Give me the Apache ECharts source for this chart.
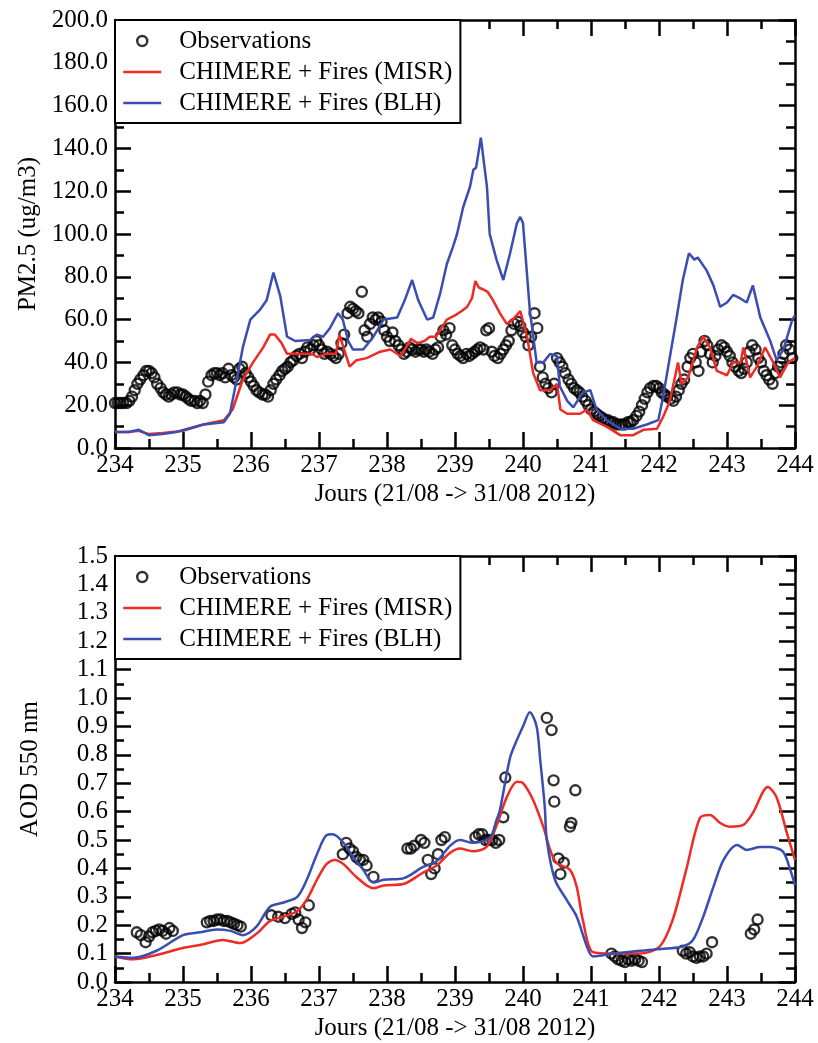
<!DOCTYPE html>
<html><head><meta charset="utf-8">
<script src="https://cdn.jsdelivr.net/npm/echarts@6/dist/echarts.min.js"></script>
<style>html,body{margin:0;padding:0;background:#fff}#c{width:818px;height:1043px}</style>
</head><body><div id="c"></div>
<script>
// ---------- DATA ----------
const seriesNames = ['Observations', 'CHIMERE + Fires (MISR)', 'CHIMERE + Fires (BLH)'];
const xTitle = 'Jours (21/08 -> 31/08 2012)';
const pmTitle = 'PM2.5 (ug/m3)';
const aodTitle = 'AOD 550 nm';

// PM2.5 observations [day, value]
const pmObs = [
[234.00,21],[234.04,21],[234.08,21],[234.12,21],[234.17,21],[234.21,22],[234.25,24],[234.29,27],[234.33,30],[234.37,32],
[234.42,34],[234.46,36],[234.50,36],[234.54,35],[234.58,33],[234.62,30],[234.67,28],[234.71,26],[234.75,25],[234.79,24],
[234.83,25],[234.87,26],[234.92,26],[234.96,25],[235.00,25],[235.04,24],[235.08,23],[235.12,22],[235.17,22],[235.21,21],
[235.25,22],[235.29,21],[235.33,25],[235.37,31],[235.42,34],[235.46,35],[235.50,35],[235.54,34],[235.58,35],[235.62,33],
[235.67,37],[235.71,34],[235.75,33],[235.79,32],[235.83,37],[235.87,38],[235.92,35],[235.96,33],[236.00,31],[236.04,29],
[236.08,27],[236.12,26],[236.17,25],[236.21,25],[236.25,24],[236.29,27],[236.33,30],[236.37,32],[236.42,34],[236.46,36],
[236.50,37],[236.54,38],[236.58,40],[236.62,41],[236.67,43],[236.71,44],[236.75,42],[236.79,45],[236.83,47],[236.87,46],
[236.92,48],[236.96,50],[237.00,48],[237.04,46],[237.08,44],[237.12,45],[237.17,44],[237.21,43],[237.25,42],[237.29,44],
[237.33,49],[237.37,53],[237.42,63],[237.46,66],[237.50,65],[237.54,64],[237.58,63],[237.63,73],[237.67,55],[237.71,52],
[237.75,58],[237.79,61],[237.83,60],[237.87,61],[237.92,59],[237.96,55],[238.00,52],[238.04,50],[238.08,54],[238.12,50],
[238.17,48],[238.21,46],[238.25,44],[238.29,45],[238.33,47],[238.37,46],[238.42,45],[238.46,46],[238.50,46],[238.54,45],
[238.58,46],[238.62,45],[238.67,44],[238.71,46],[238.75,47],[238.79,52],[238.83,55],[238.87,53],[238.92,56],[238.96,48],
[239.00,46],[239.04,44],[239.08,43],[239.12,42],[239.17,44],[239.21,43],[239.25,44],[239.29,45],[239.33,46],[239.37,47],
[239.42,46],[239.46,55],[239.50,56],[239.54,45],[239.58,43],[239.63,42],[239.67,44],[239.71,46],[239.75,48],[239.79,50],
[239.83,55],[239.87,58],[239.92,59],[239.96,57],[240.00,54],[240.04,52],[240.08,48],[240.12,52],[240.17,63],[240.21,56],
[240.25,38],[240.29,33],[240.33,30],[240.37,28],[240.42,26],[240.46,30],[240.50,42],[240.54,40],[240.58,38],[240.62,35],
[240.67,32],[240.71,30],[240.75,28],[240.79,27],[240.83,26],[240.87,24],[240.92,22],[240.96,20],[241.00,18],[241.04,17],
[241.08,16],[241.12,15],[241.17,14],[241.21,13],[241.25,13],[241.29,12],[241.33,12],[241.37,11],[241.42,11],[241.46,11],
[241.50,11],[241.54,12],[241.58,12],[241.62,13],[241.67,15],[241.71,17],[241.75,20],[241.79,23],[241.83,26],[241.87,28],
[241.92,29],[241.96,29],[242.00,28],[242.04,26],[242.08,25],[242.12,24],[242.17,23],[242.21,22],[242.25,24],[242.29,27],
[242.33,30],[242.37,32],[242.42,38],[242.46,42],[242.50,44],[242.54,40],[242.58,36],[242.62,45],[242.67,50],[242.71,48],
[242.75,44],[242.79,40],[242.83,43],[242.87,46],[242.92,48],[242.96,47],[243.00,45],[243.04,43],[243.08,40],[243.12,38],
[243.17,36],[243.21,35],[243.25,37],[243.29,40],[243.33,45],[243.37,48],[243.42,46],[243.46,42],[243.50,40],[243.54,36],
[243.58,34],[243.62,32],[243.67,30],[243.71,35],[243.75,38],[243.79,40],[243.83,44],[243.87,48],[243.92,46],[243.96,42]
];

// PM2.5 CHIMERE + Fires (MISR)
const pmMisr = [
[234.0,7.5],[234.2,7.5],[234.35,8],[234.5,6.5],[234.7,7],[235.0,8],[235.3,11],[235.6,13],[235.73,18],[235.88,32],
[236.03,40],[236.18,47],[236.28,53],[236.35,53],[236.45,49],[236.53,44],[236.7,44],[236.9,44],[236.97,42.5],[237.1,44],
[237.25,44],[237.3,53],[237.38,45],[237.45,38],[237.55,41],[237.7,42],[237.9,45],[238.05,46],[238.2,43],[238.3,48],
[238.35,51],[238.45,49],[238.55,50],[238.63,52],[238.72,52],[238.8,56],[238.88,60],[239.0,62],[239.1,64],[239.18,66],
[239.25,70],[239.3,78],[239.35,75],[239.42,74],[239.48,73],[239.56,69],[239.66,63],[239.76,58],[239.85,60],[239.96,64],
[240.06,52],[240.15,35],[240.25,27],[240.4,27],[240.5,30],[240.55,18],[240.65,16],[240.84,16],[240.94,18],[241.03,13],
[241.23,10],[241.43,6],[241.62,6],[241.77,8.5],[241.97,9],[242.06,14.5],[242.16,22],[242.28,40],[242.33,30],[242.43,33],
[242.56,47],[242.65,52],[242.75,47],[242.85,36],[243.0,34],[243.09,40],[243.2,40],[243.24,47],[243.34,33],[243.44,38],
[243.56,47],[243.68,40],[243.78,33],[243.9,40],[244.0,42]
];

// PM2.5 CHIMERE + Fires (BLH)
const pmBlh = [
[234.0,7.5],[234.2,7.5],[234.35,8.5],[234.5,6],[234.7,6.5],[234.9,7.5],[235.3,11],[235.6,12],[235.69,16],[235.79,32],
[235.88,47],[235.99,60],[236.13,64.5],[236.23,69],[236.33,82],[236.43,71],[236.53,52],[236.65,50],[236.87,50.5],[236.97,53],
[237.06,52],[237.16,56],[237.28,63],[237.35,60],[237.43,50],[237.5,46],[237.65,46],[237.8,52],[237.95,60],[238.15,61],
[238.26,69],[238.37,78.5],[238.46,69],[238.59,60],[238.68,61],[238.78,72],[238.88,86],[238.97,94],[239.03,100],[239.12,112.5],
[239.22,122],[239.27,130],[239.31,131],[239.38,145],[239.47,122],[239.51,100],[239.61,88],[239.71,78.5],[239.81,91],[239.91,105],
[239.96,108],[240.0,105],[240.1,64.5],[240.2,40],[240.3,40],[240.4,44],[240.5,43],[240.54,29],[240.65,22],[240.74,19],
[240.88,26],[240.99,27],[241.08,18],[241.23,13],[241.43,9],[241.62,9],[241.82,11],[241.99,13],[242.06,24],[242.16,42.5],
[242.26,61],[242.35,78.5],[242.44,91],[242.52,88],[242.57,89],[242.7,83],[242.8,76],[242.9,66],[243.0,68],[243.09,71.5],
[243.19,70],[243.29,68],[243.38,76],[243.49,61],[243.63,50.5],[243.73,41],[243.83,46],[243.96,60],[244.0,62]
];

// AOD observations
const aodObs = [
[234.32,0.175],[234.38,0.165],[234.45,0.14],[234.50,0.16],[234.55,0.175],[234.60,0.18],[234.65,0.185],[234.70,0.18],[234.75,0.17],[234.80,0.19],[234.85,0.18],
[235.35,0.21],[235.40,0.215],[235.45,0.215],[235.50,0.22],[235.55,0.22],[235.60,0.215],[235.65,0.215],[235.70,0.21],[235.75,0.205],[235.80,0.2],[235.85,0.195],
[236.30,0.235],[236.40,0.23],[236.50,0.225],[236.60,0.24],[236.65,0.245],[236.70,0.22],[236.75,0.19],[236.80,0.21],[236.85,0.27],
[237.35,0.45],[237.40,0.49],[237.45,0.47],[237.50,0.46],[237.55,0.44],[237.60,0.43],[237.65,0.43],[237.70,0.41],[237.80,0.37],
[238.30,0.47],[238.35,0.47],[238.40,0.48],[238.50,0.50],[238.55,0.49],[238.60,0.43],[238.65,0.38],[238.70,0.40],[238.75,0.45],[238.80,0.50],[238.85,0.51],
[239.30,0.51],[239.35,0.52],[239.40,0.52],[239.45,0.50],[239.50,0.50],[239.55,0.50],[239.60,0.49],[239.65,0.50],[239.71,0.58],[239.74,0.72],
[240.35,0.93],[240.42,0.887],[240.45,0.71],[240.46,0.635],[240.52,0.435],[240.55,0.38],[240.60,0.42],[240.69,0.547],[240.71,0.56],[240.77,0.675],
[241.30,0.10],[241.35,0.09],[241.40,0.08],[241.45,0.075],[241.50,0.07],[241.55,0.08],[241.60,0.075],[241.65,0.08],[241.70,0.075],[241.75,0.07],
[242.35,0.11],[242.40,0.10],[242.45,0.105],[242.50,0.09],[242.55,0.085],[242.60,0.09],[242.65,0.09],[242.70,0.10],[242.78,0.14],
[243.35,0.17],[243.40,0.185],[243.45,0.22]
];

// AOD CHIMERE + Fires (MISR)
const aodMisr = [
[234.0,0.09],[234.27,0.08],[234.61,0.095],[235.0,0.12],[235.25,0.13],[235.59,0.148],[235.84,0.137],[236.08,0.17],[236.28,0.215],[236.48,0.23],
[236.68,0.25],[236.82,0.29],[236.97,0.36],[237.11,0.415],[237.24,0.43],[237.36,0.415],[237.55,0.37],[237.8,0.33],[237.95,0.34],[238.24,0.345],
[238.53,0.385],[238.73,0.41],[238.93,0.455],[239.07,0.47],[239.26,0.46],[239.46,0.475],[239.61,0.55],[239.76,0.65],[239.91,0.705],[240.0,0.7],
[240.15,0.64],[240.3,0.545],[240.4,0.465],[240.49,0.42],[240.69,0.395],[240.79,0.335],[240.88,0.218],[241.03,0.105],[241.33,0.1],[241.72,0.1],
[242.01,0.125],[242.2,0.218],[242.4,0.395],[242.6,0.577],[242.75,0.588],[242.9,0.56],[243.04,0.547],[243.24,0.553],[243.38,0.595],[243.6,0.687],
[243.73,0.65],[243.88,0.525],[244.0,0.43]
];

// AOD CHIMERE + Fires (BLH)
const aodBlh = [
[234.0,0.09],[234.27,0.085],[234.61,0.11],[235.0,0.165],[235.25,0.175],[235.5,0.185],[235.7,0.18],[235.88,0.165],[236.08,0.195],[236.28,0.265],
[236.48,0.28],[236.68,0.3],[236.82,0.36],[236.97,0.45],[237.11,0.517],[237.2,0.52],[237.36,0.49],[237.5,0.44],[237.65,0.395],[237.8,0.35],
[237.95,0.36],[238.24,0.365],[238.53,0.405],[238.73,0.425],[238.93,0.48],[239.07,0.5],[239.26,0.49],[239.51,0.507],[239.61,0.57],[239.66,0.605],
[239.81,0.79],[239.91,0.852],[240.0,0.9],[240.1,0.95],[240.2,0.9],[240.25,0.79],[240.32,0.617],[240.35,0.5],[240.47,0.36],[240.64,0.29],
[240.79,0.23],[240.94,0.125],[241.03,0.09],[241.33,0.1],[241.72,0.11],[242.11,0.118],[242.35,0.125],[242.5,0.148],[242.65,0.23],[242.8,0.335],
[242.95,0.43],[243.15,0.482],[243.29,0.465],[243.49,0.475],[243.63,0.475],[243.82,0.46],[243.93,0.395],[244.0,0.34]
];

// ---------- STYLE ----------
const FONT = 'Liberation Serif';
const FS = 25;
const RED = '#ee2b24';
const BLUE = '#3a4db0';
const AX = '#000';

function baseAxis(extra) {
  return Object.assign({
    type: 'value',
    axisLine: {show: true, onZero: false, lineStyle: {color: AX, width: 2.5}},
    axisTick: {show: true, inside: true, length: 16, lineStyle: {color: AX, width: 2.5}},
    minorTick: {show: true, splitNumber: 2, length: 9, lineStyle: {color: AX, width: 2.5}},
    splitLine: {show: false}, minorSplitLine: {show: false}
  }, extra);
}
function xAxes(g) {
  return [
    baseAxis({gridIndex: g, min: 234, max: 244, interval: 1, position: 'bottom',
      axisLabel: {show: true, fontFamily: FONT, fontSize: FS, color: '#000', margin: 5},
      name: xTitle, nameLocation: 'middle', nameGap: 34, nameTextStyle: {fontFamily: FONT, fontSize: FS, color: '#000'}}),
    baseAxis({gridIndex: g, min: 234, max: 244, interval: 1, position: 'top', axisLabel: {show: false}})
  ];
}
function yAxes(g, max, interval, title) {
  return [
    baseAxis({gridIndex: g, min: 0, max: max, interval: interval, position: 'left',
      axisLabel: {show: true, fontFamily: FONT, fontSize: FS, color: '#000', margin: 7, formatter: v => v.toFixed(1)},
      name: title, nameLocation: 'middle', nameRotate: 90, nameGap: 72, nameTextStyle: {fontFamily: FONT, fontSize: FS, color: '#000'}}),
    baseAxis({gridIndex: g, min: 0, max: max, interval: interval, position: 'right', axisLabel: {show: false}})
  ];
}
function legend(top) {
  return {left: 115, top: top, orient: 'vertical', padding: [8, 8, 7, 7], itemGap: 5, itemWidth: 38, itemHeight: 10,
    backgroundColor: '#fff', borderColor: '#000', borderWidth: 2, z: 10,
    textStyle: {fontFamily: FONT, fontSize: FS, color: '#000', lineHeight: 26, padding: [0, 0, 0, 13]},
    data: [
      {name: seriesNames[0], icon: 'circle', itemStyle: {color: 'transparent', borderColor: '#000', borderWidth: 2.5}},
      {name: seriesNames[1], itemStyle: {opacity: 0}, lineStyle: {color: RED, width: 2.5}},
      {name: seriesNames[2], itemStyle: {opacity: 0}, lineStyle: {color: BLUE, width: 2.5}}
    ]};
}
function obsSeries(data, xi, yi) {
  return {type: 'scatter', name: seriesNames[0], xAxisIndex: xi, yAxisIndex: yi, data: data, symbol: 'circle', symbolSize: 10, z: 2,
    itemStyle: {color: 'transparent', borderColor: '#000', borderWidth: 2.4}};
}
function lineSeries(name, data, color, xi, yi, smooth) {
  return {type: 'line', name: name, xAxisIndex: xi, yAxisIndex: yi, data: data, showSymbol: false, symbol: 'none', smooth: smooth, z: 3,
    itemStyle: {color: color}, lineStyle: {color: color, width: 2.5}};
}

const chart = echarts.init(document.getElementById('c'), null, {renderer: 'canvas'});
chart.setOption({
  animation: false, backgroundColor: '#fff',
  grid: [{left: 115, top: 20, width: 680, height: 428}, {left: 115, top: 556, width: 680, height: 426}],
  xAxis: [...xAxes(0), ...xAxes(1)],
  yAxis: [...yAxes(0, 200, 20, pmTitle), ...yAxes(1, 1.5, 0.1, aodTitle)],
  legend: [legend(20), legend(556)],
  series: [
    obsSeries(pmObs, 0, 0),
    lineSeries(seriesNames[1], pmMisr, RED, 0, 0, false),
    lineSeries(seriesNames[2], pmBlh, BLUE, 0, 0, false),
    obsSeries(aodObs, 2, 2),
    lineSeries(seriesNames[1], aodMisr, RED, 2, 2, 0.3),
    lineSeries(seriesNames[2], aodBlh, BLUE, 2, 2, 0.3)
  ]
});

// make sure every tick element is measured and repainted
function touchAll() {
  const zr = chart.getZr();
  zr.storage.getDisplayList(true).forEach(e => {
    try { e.getBoundingRect(); } catch (x) {}
    if (e.culling) e.culling = false;
    if (e.markRedraw) e.markRedraw();
  });
  zr.refreshImmediately();
}
touchAll();
requestAnimationFrame(touchAll);
</script>
</body></html>
